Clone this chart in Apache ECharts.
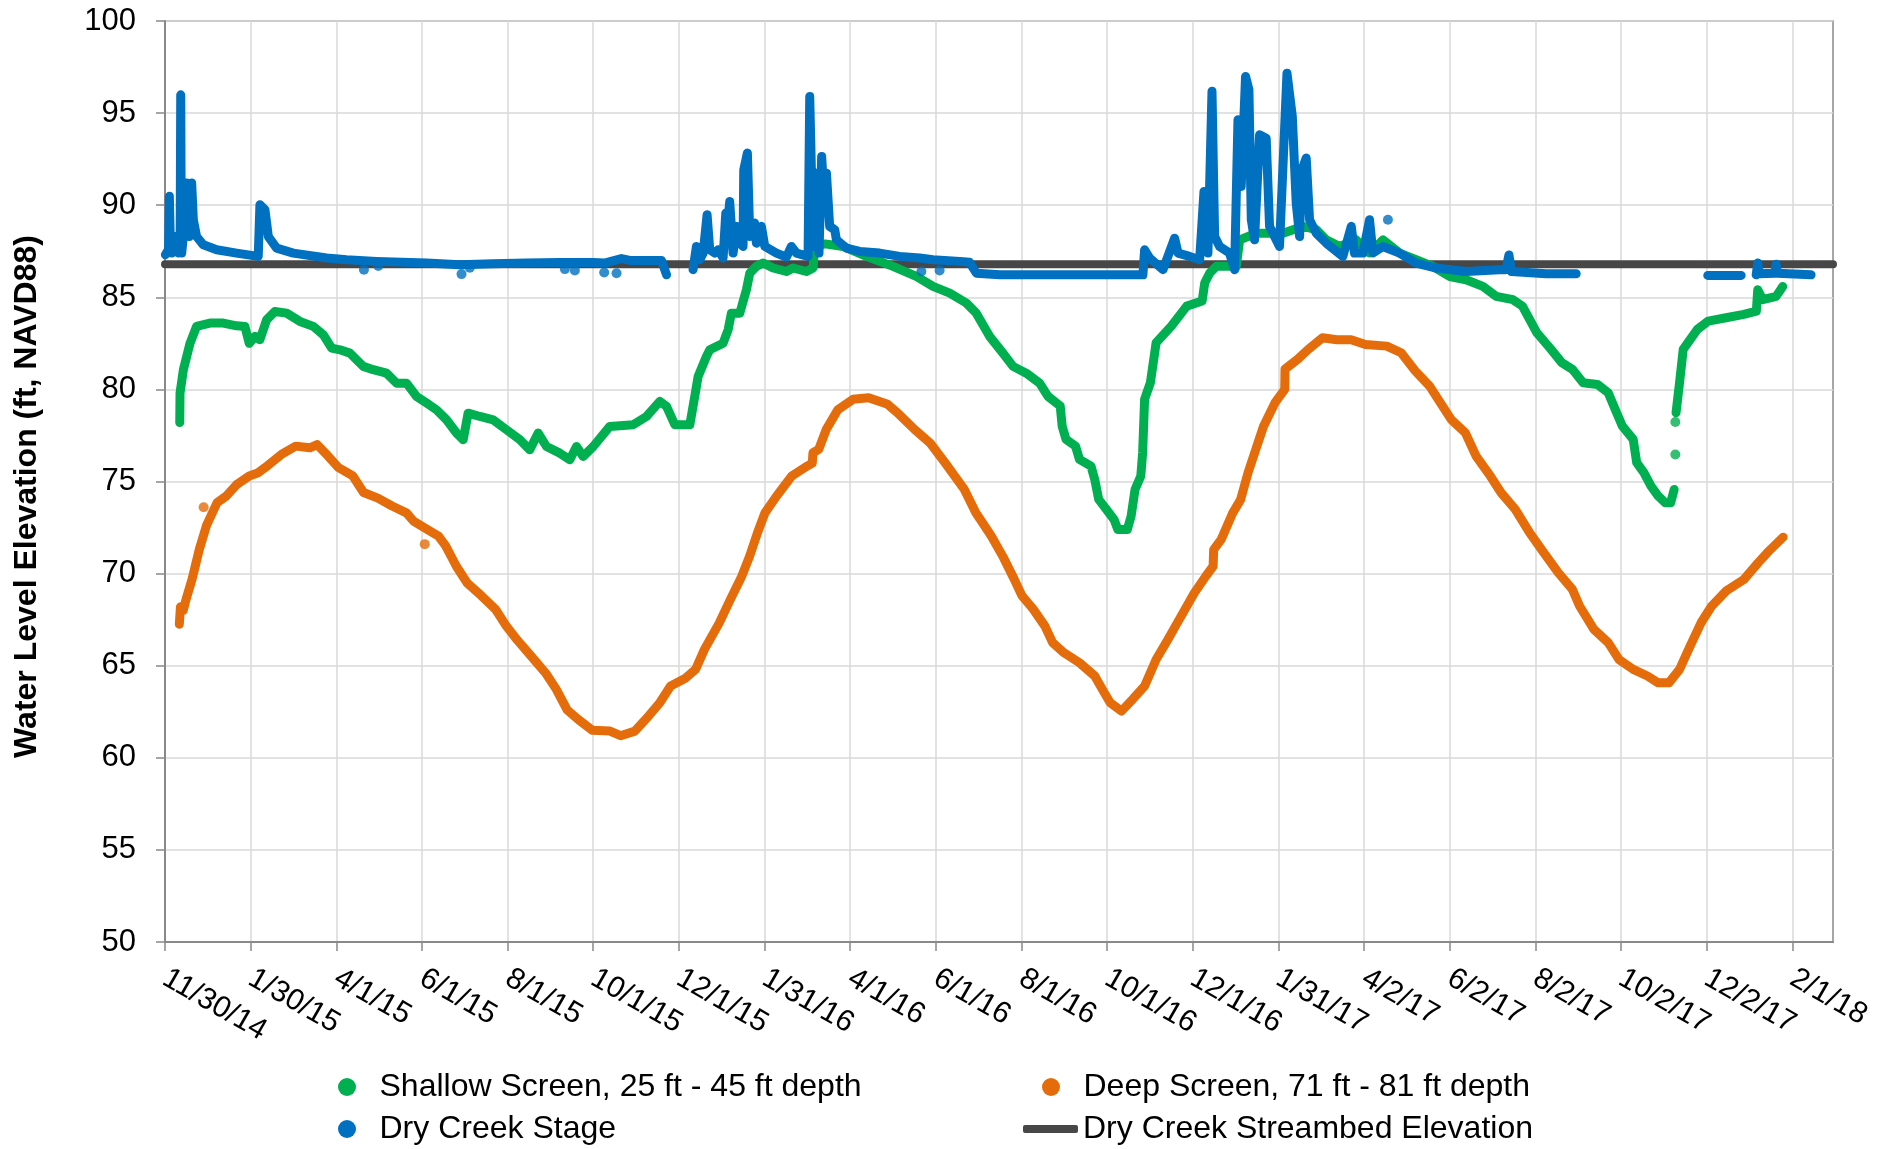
<!DOCTYPE html>
<html><head><meta charset="utf-8">
<script src="https://cdn.jsdelivr.net/npm/echarts@6/dist/echarts.min.js"></script>
<style>html,body{margin:0;padding:0;background:#fff}#c{width:1898px;height:1149px}</style>
</head><body><div id="c"></div>
<script>
// x values are days since START_DATE
const START_DATE = Date.UTC(2014, 10, 30);
const X_MIN = 0, X_MAX = 1188, X_STEP = 61;
const xTickDays = [0,61,122,183,244,305,366,427,488,549,610,671,732,793,854,915,976,1037,1098,1159];
const Y_MIN = 50, Y_MAX = 100, Y_STEP = 5;

const NAME_SHALLOW = 'Shallow Screen, 25 ft - 45 ft depth';
const NAME_DEEP = 'Deep Screen, 71 ft - 81 ft depth';
const NAME_STAGE = 'Dry Creek Stage';
const NAME_BED = 'Dry Creek Streambed Elevation';

const streambedElevation = 86.8;

const deep = [[10.2,67.25],[11,68.2],[13,68.0],[15,68.6],[19.3,69.7],[24.4,71.3],[29.5,72.6],[37.1,73.85],[43.5,74.2],[51.1,74.84],[60,75.3],[66.4,75.48],[72.7,75.84],[82.9,76.47],[93.1,76.92],[103.2,76.83],[108.3,77.0],[115.9,76.4],[123.6,75.75],[133.8,75.3],[141.4,74.4],[151.6,74.1],[161.7,73.67],[171.9,73.3],[177,72.85],[184.6,72.5],[194.8,72.04],[199.9,71.5],[207.5,70.4],[215.1,69.5],[225.3,68.8],[235.5,68.05],[243.1,67.15],[250.8,66.4],[261,65.5],[271.1,64.6],[278.8,63.7],[286.4,62.6],[294,62.1],[304.2,61.5],[316.9,61.45],[324.5,61.2],[334.7,61.45],[344.8,62.3],[352.5,63.0],[360.1,63.9],[370.3,64.3],[377.9,64.8],[384.3,65.9],[394.6,67.3],[402.7,68.6],[410.9,69.87],[416.4,70.95],[421.9,72.2],[427.3,73.3],[435.5,74.2],[446.4,75.3],[457.4,75.84],[461,76.0],[461.5,76.56],[465.6,76.74],[471,77.83],[479.2,78.9],[490.1,79.46],[501.1,79.55],[514.7,79.19],[522.9,78.64],[533.8,77.83],[544.8,77.1],[555.7,76.0],[569.3,74.57],[577.5,73.3],[588.5,72.04],[596.6,70.95],[604.8,69.7],[610.3,68.8],[618.5,68.06],[626.7,67.15],[632.2,66.25],[640.3,65.7],[651.3,65.16],[662.2,64.44],[667.7,63.7],[673.1,63.0],[681.3,62.54],[689.5,63.2],[697.7,63.9],[705.9,65.34],[714.1,66.4],[722.3,67.5],[733.2,68.96],[741.4,69.87],[746.5,70.4],[746.9,71.3],[752.3,71.86],[760.5,73.3],[766,74.0],[771.4,75.48],[776.9,76.74],[782.4,78.0],[790.6,79.28],[797.5,80.0],[797.7,81.1],[806.6,81.63],[814.2,82.17],[824.4,82.8],[834.6,82.7],[844.8,82.7],[855,82.44],[870.2,82.35],[880.4,81.99],[890.5,81.0],[900.7,80.18],[908.3,79.28],[916,78.37],[926.1,77.65],[933.8,76.38],[943.9,75.3],[951.6,74.39],[961.7,73.49],[971.9,72.22],[982.1,71.13],[992.3,70.05],[1002.4,69.14],[1007.5,68.24],[1017.7,66.97],[1027.9,66.25],[1035.5,65.34],[1045.7,64.8],[1055.8,64.44],[1063.5,64.07],[1071.1,64.07],[1078.7,64.8],[1086.3,66.07],[1094,67.33],[1101.6,68.24],[1111.8,69.05],[1124.5,69.68],[1134.7,70.59],[1142.3,71.22],[1152.5,71.98]];
const deepDots = [[27.5,73.6],[185,71.6]];

const shallow = [[10.5,78.2],[10.7,79.8],[13.1,81.07],[17.8,82.5],[22.5,83.42],[32,83.6],[41.5,83.6],[51,83.45],[56.9,83.42],[60,82.5],[64.1,82.88],[67.6,82.7],[72.4,83.78],[78.3,84.23],[86.6,84.14],[96.1,83.69],[105.6,83.42],[112.7,82.97],[118.7,82.24],[124.6,82.15],[131.7,81.97],[141.2,81.25],[148.3,81.07],[157.8,80.88],[164.9,80.34],[172,80.34],[179.2,79.62],[186.3,79.26],[193.4,78.89],[200.5,78.35],[207.6,77.63],[212.4,77.27],[215.9,78.71],[224.3,78.53],[233.7,78.35],[243.2,77.81],[252.7,77.27],[259.8,76.72],[265.8,77.63],[271.7,76.9],[281.2,76.54],[288.3,76.18],[293.1,76.9],[297.8,76.36],[305,76.9],[316.8,77.99],[333.4,78.08],[342.9,78.53],[352.4,79.35],[357.2,79.08],[363.1,78.08],[373.8,78.08],[377.3,79.62],[379.7,80.7],[385.6,81.79],[388,82.15],[397.5,82.51],[401.1,83.24],[403.4,84.14],[409.4,84.14],[414.1,85.41],[416.5,86.31],[421.2,86.68],[426,86.86],[433.1,86.59],[442.6,86.4],[447.3,86.59],[456.8,86.4],[461.6,86.59],[462.8,87.76],[470,87.9],[483,87.76],[499.5,87.22],[518.5,86.68],[535.1,86.13],[547,85.59],[558.9,85.23],[570.7,84.69],[577.8,84.14],[587.3,82.88],[596.8,81.97],[604,81.25],[613.4,80.88],[622.9,80.34],[628.9,79.62],[637.6,79.1],[639,78.0],[641.7,77.29],[648.5,76.92],[651.3,76.2],[659.5,75.84],[662.2,75.11],[665,74.03],[670.4,73.49],[675.9,72.94],[678.6,72.4],[685.4,72.4],[688.1,73.12],[690.9,74.57],[695,75.3],[696.3,76.56],[697.7,79.46],[701.8,80.36],[705.9,82.53],[716.8,83.44],[722.3,83.98],[727.7,84.52],[738.7,84.8],[740.5,85.77],[744,86.31],[748.8,86.68],[763,86.68],[765.4,88.12],[777.2,88.48],[796.2,88.48],[810.5,88.85],[820,88.67],[827.1,88.12],[836.6,87.76],[848.4,88.12],[857.9,87.4],[867.4,88.12],[879.3,87.4],[891.1,87.04],[903,86.68],[914.9,86.13],[926.7,85.95],[938.6,85.59],[948.2,85.05],[960,84.87],[966.8,84.52],[971.9,83.8],[977,83.08],[987.2,82.17],[994.8,81.45],[1002.4,81.09],[1010,80.36],[1020.2,80.27],[1027.9,79.82],[1032.9,78.91],[1038,78.0],[1045.7,77.29],[1048.2,76.02],[1053.3,75.48],[1058.4,74.75],[1063.5,74.21],[1068.5,73.85],[1072.4,73.85],[1074.9,74.57],[1075.5,'-'],[1076.2,78.73],[1078.7,80.36],[1081.3,82.17],[1091.4,83.26],[1099.1,83.71],[1111.8,83.89],[1124.5,84.07],[1133.4,84.25],[1134.4,85.41],[1138,84.87],[1147.5,85.05],[1152.2,85.59]];
const shallowDots = [[1075.7,76.47],[1075.7,78.23]];

const stage = [[0.3,87.31],[2.5,87.6],[3.1,90.48],[3.8,88.0],[4.7,87.4],[7.1,88.3],[9.5,87.4],[10.8,88.5],[11.2,95.99],[11.6,88.5],[11.9,87.4],[14.2,89.2],[15.4,91.2],[16.3,90.5],[17.3,88.3],[18.2,89.5],[19,91.2],[20.2,89.2],[22.5,88.3],[27.3,87.85],[36.8,87.58],[51,87.4],[66.4,87.22],[67.6,90.02],[71.2,89.75],[73.6,88.3],[79.5,87.67],[91.4,87.4],[115.1,87.13],[129.3,87.04],[150.7,86.95],[186.3,86.86],[210,86.77],[233.7,86.82],[257.5,86.86],[281.2,86.89],[304.9,86.89],[313,86.86],[325.1,87.1],[331.1,87.0],[345.3,87.0],[353.6,87.0],[357.2,86.22],[365,'-'],[376.1,86.5],[378.5,87.76],[380.9,87.04],[383.3,87.4],[386.1,89.48],[388,87.58],[391.6,87.4],[394,87.58],[397.5,87.13],[399.4,89.57],[401.1,89.21],[402.2,90.2],[404.6,87.4],[407,88.85],[409.4,87.94],[411.7,87.76],[412.2,91.92],[414.8,92.83],[416.5,88.3],[420,89.03],[421.2,87.94],[424.8,88.85],[427.2,87.76],[435.5,87.4],[442.6,87.18],[446.1,87.76],[449.7,87.4],[458,87.22],[459.2,95.9],[461.6,87.76],[463.9,91.74],[465.8,87.4],[467.7,92.65],[469.2,90.66],[471.1,91.74],[473.4,88.85],[477,88.67],[478.2,88.12],[485.3,87.67],[494.8,87.49],[509,87.4],[523.3,87.22],[537.5,87.13],[547,87.04],[566,86.95],[573,86.9],[577.9,86.31],[594.5,86.22],[630.1,86.22],[696.5,86.22],[697.7,87.58],[701.3,87.13],[710.8,86.5],[719.1,88.21],[721.5,87.4],[729.8,87.22],[736.9,87.04],[740,90.75],[742.8,87.4],[745.7,96.18],[747.6,88.3],[751.1,87.76],[758.2,87.4],[761.8,86.5],[764.2,94.64],[766.5,91.02],[769.6,96.99],[772,96.27],[773.7,89.21],[776,88.12],[779.6,93.82],[784.3,93.64],[786.7,88.85],[793.8,87.76],[799.1,97.17],[802.9,94.82],[805.7,90.11],[808.1,88.3],[809.3,91.83],[812.8,92.56],[815.2,89.21],[820,88.48],[827.1,87.94],[838.9,87.22],[844.9,88.85],[847.2,87.4],[853.2,87.4],[857.9,89.21],[860.3,87.4],[867.4,87.76],[879.3,87.4],[891.1,86.86],[905.4,86.59],[926.7,86.4],[950.5,86.5],[955,86.5],[957.2,87.3],[959,86.4],[983.8,86.28],[1005.1,86.28],[1050,'-'],[1098.8,86.19],[1122.6,86.19],[1128,'-'],[1133.3,86.22],[1134.4,86.86],[1135.5,86.28],[1146.5,86.3],[1147.5,86.8],[1148.5,86.3],[1172.4,86.22]];
const stageDots = [[141.7,86.5],[151.9,86.7],[211.2,86.26],[217.1,86.6],[284.8,86.53],[291.9,86.46],[312.8,86.35],[321.6,86.31],[538.7,86.4],[551.7,86.46],[871,89.21]];

const COLORS = {shallow:'#00B050', deep:'#E46C0A', stage:'#0070C0', bed:'#474747'};
const FONT = "'Liberation Sans', Arial, sans-serif";

function dayLabel(d){
  const dt = new Date(START_DATE + d*86400000);
  return (dt.getUTCMonth()+1) + '/' + dt.getUTCDate() + '/' + String(dt.getUTCFullYear()).slice(2);
}

function lineSeries(name, data, color, z, w){
  return {type:'line', name, data, showSymbol:false, symbol:'none', clip:false, silent:true, z,
    lineStyle:{color, width:w, cap:'round', join:'round'}, itemStyle:{color}, emphasis:{disabled:true}};
}
function dotSeries(name, data, color, z){
  return {type:'scatter', name, data, symbol:'circle', symbolSize:10, clip:false, silent:true, z,
    itemStyle:{color}, emphasis:{disabled:true}};
}

function legendItem(name, left, top, icon, ih){
  return {data:[{name, icon}], left, top, orient:'horizontal', padding:0, itemWidth:55, itemHeight:ih,
    itemStyle:{borderWidth:0}, selectedMode:false,
    textStyle:{fontFamily:FONT, fontSize:32, color:'#000'}};
}

const chart = echarts.init(document.getElementById('c'), null, {renderer:'canvas'});
chart.setOption({
  animation:false,
  backgroundColor:'#fff',
  grid:{left:165, right:65, top:21, bottom:207, show:true, borderColor:'#898989', borderWidth:1.5, containLabel:false, outerBoundsMode:'none'},
  legend:[
    legendItem(NAME_SHALLOW, 338, 1071, 'circle', 18),
    legendItem(NAME_STAGE, 338, 1113, 'circle', 18),
    legendItem(NAME_DEEP, 1042, 1071, 'circle', 18),
    legendItem(NAME_BED, 1023, 1113, 'roundRect', 8)
  ],
  xAxis:{type:'value', min:X_MIN, max:X_MAX, interval:X_STEP,
    axisLine:{show:true, lineStyle:{color:'#898989', width:2}},
    axisTick:{show:true, length:9, customValues:xTickDays, lineStyle:{color:'#898989', width:1.5}},
    axisLabel:{customValues:xTickDays, rotate:-30, margin:34, formatter:dayLabel, fontFamily:FONT, fontSize:30, color:'#000'},
    splitLine:{show:true, lineStyle:{color:'#d9d9d9', width:1.5}}},
  yAxis:{type:'value', min:Y_MIN, max:Y_MAX, interval:Y_STEP,
    name:'Water Level Elevation (ft, NAVD88)', nameLocation:'middle', nameGap:122, nameRotate:90,
    nameTextStyle:{fontFamily:FONT, fontSize:32, fontWeight:'bold', color:'#000', padding:[0,30,0,0]},
    axisLine:{show:true, lineStyle:{color:'#898989', width:2}},
    axisTick:{show:true, length:9, lineStyle:{color:'#898989', width:1.5}},
    axisLabel:{margin:29, fontFamily:FONT, fontSize:31, color:'#000'},
    splitLine:{show:true, lineStyle:{color:'#d9d9d9', width:1.5}}},
  series:[
    lineSeries(NAME_BED, [[X_MIN, streambedElevation],[X_MAX, streambedElevation]], COLORS.bed, 1, 8),
    lineSeries(NAME_DEEP, deep, COLORS.deep, 2, 9),
    dotSeries(NAME_DEEP, deepDots, COLORS.deep, 2),
    lineSeries(NAME_SHALLOW, shallow, COLORS.shallow, 3, 9),
    dotSeries(NAME_SHALLOW, shallowDots, COLORS.shallow, 3),
    lineSeries(NAME_STAGE, stage, COLORS.stage, 4, 9),
    dotSeries(NAME_STAGE, stageDots, COLORS.stage, 4)
  ]
});
</script></body></html>
